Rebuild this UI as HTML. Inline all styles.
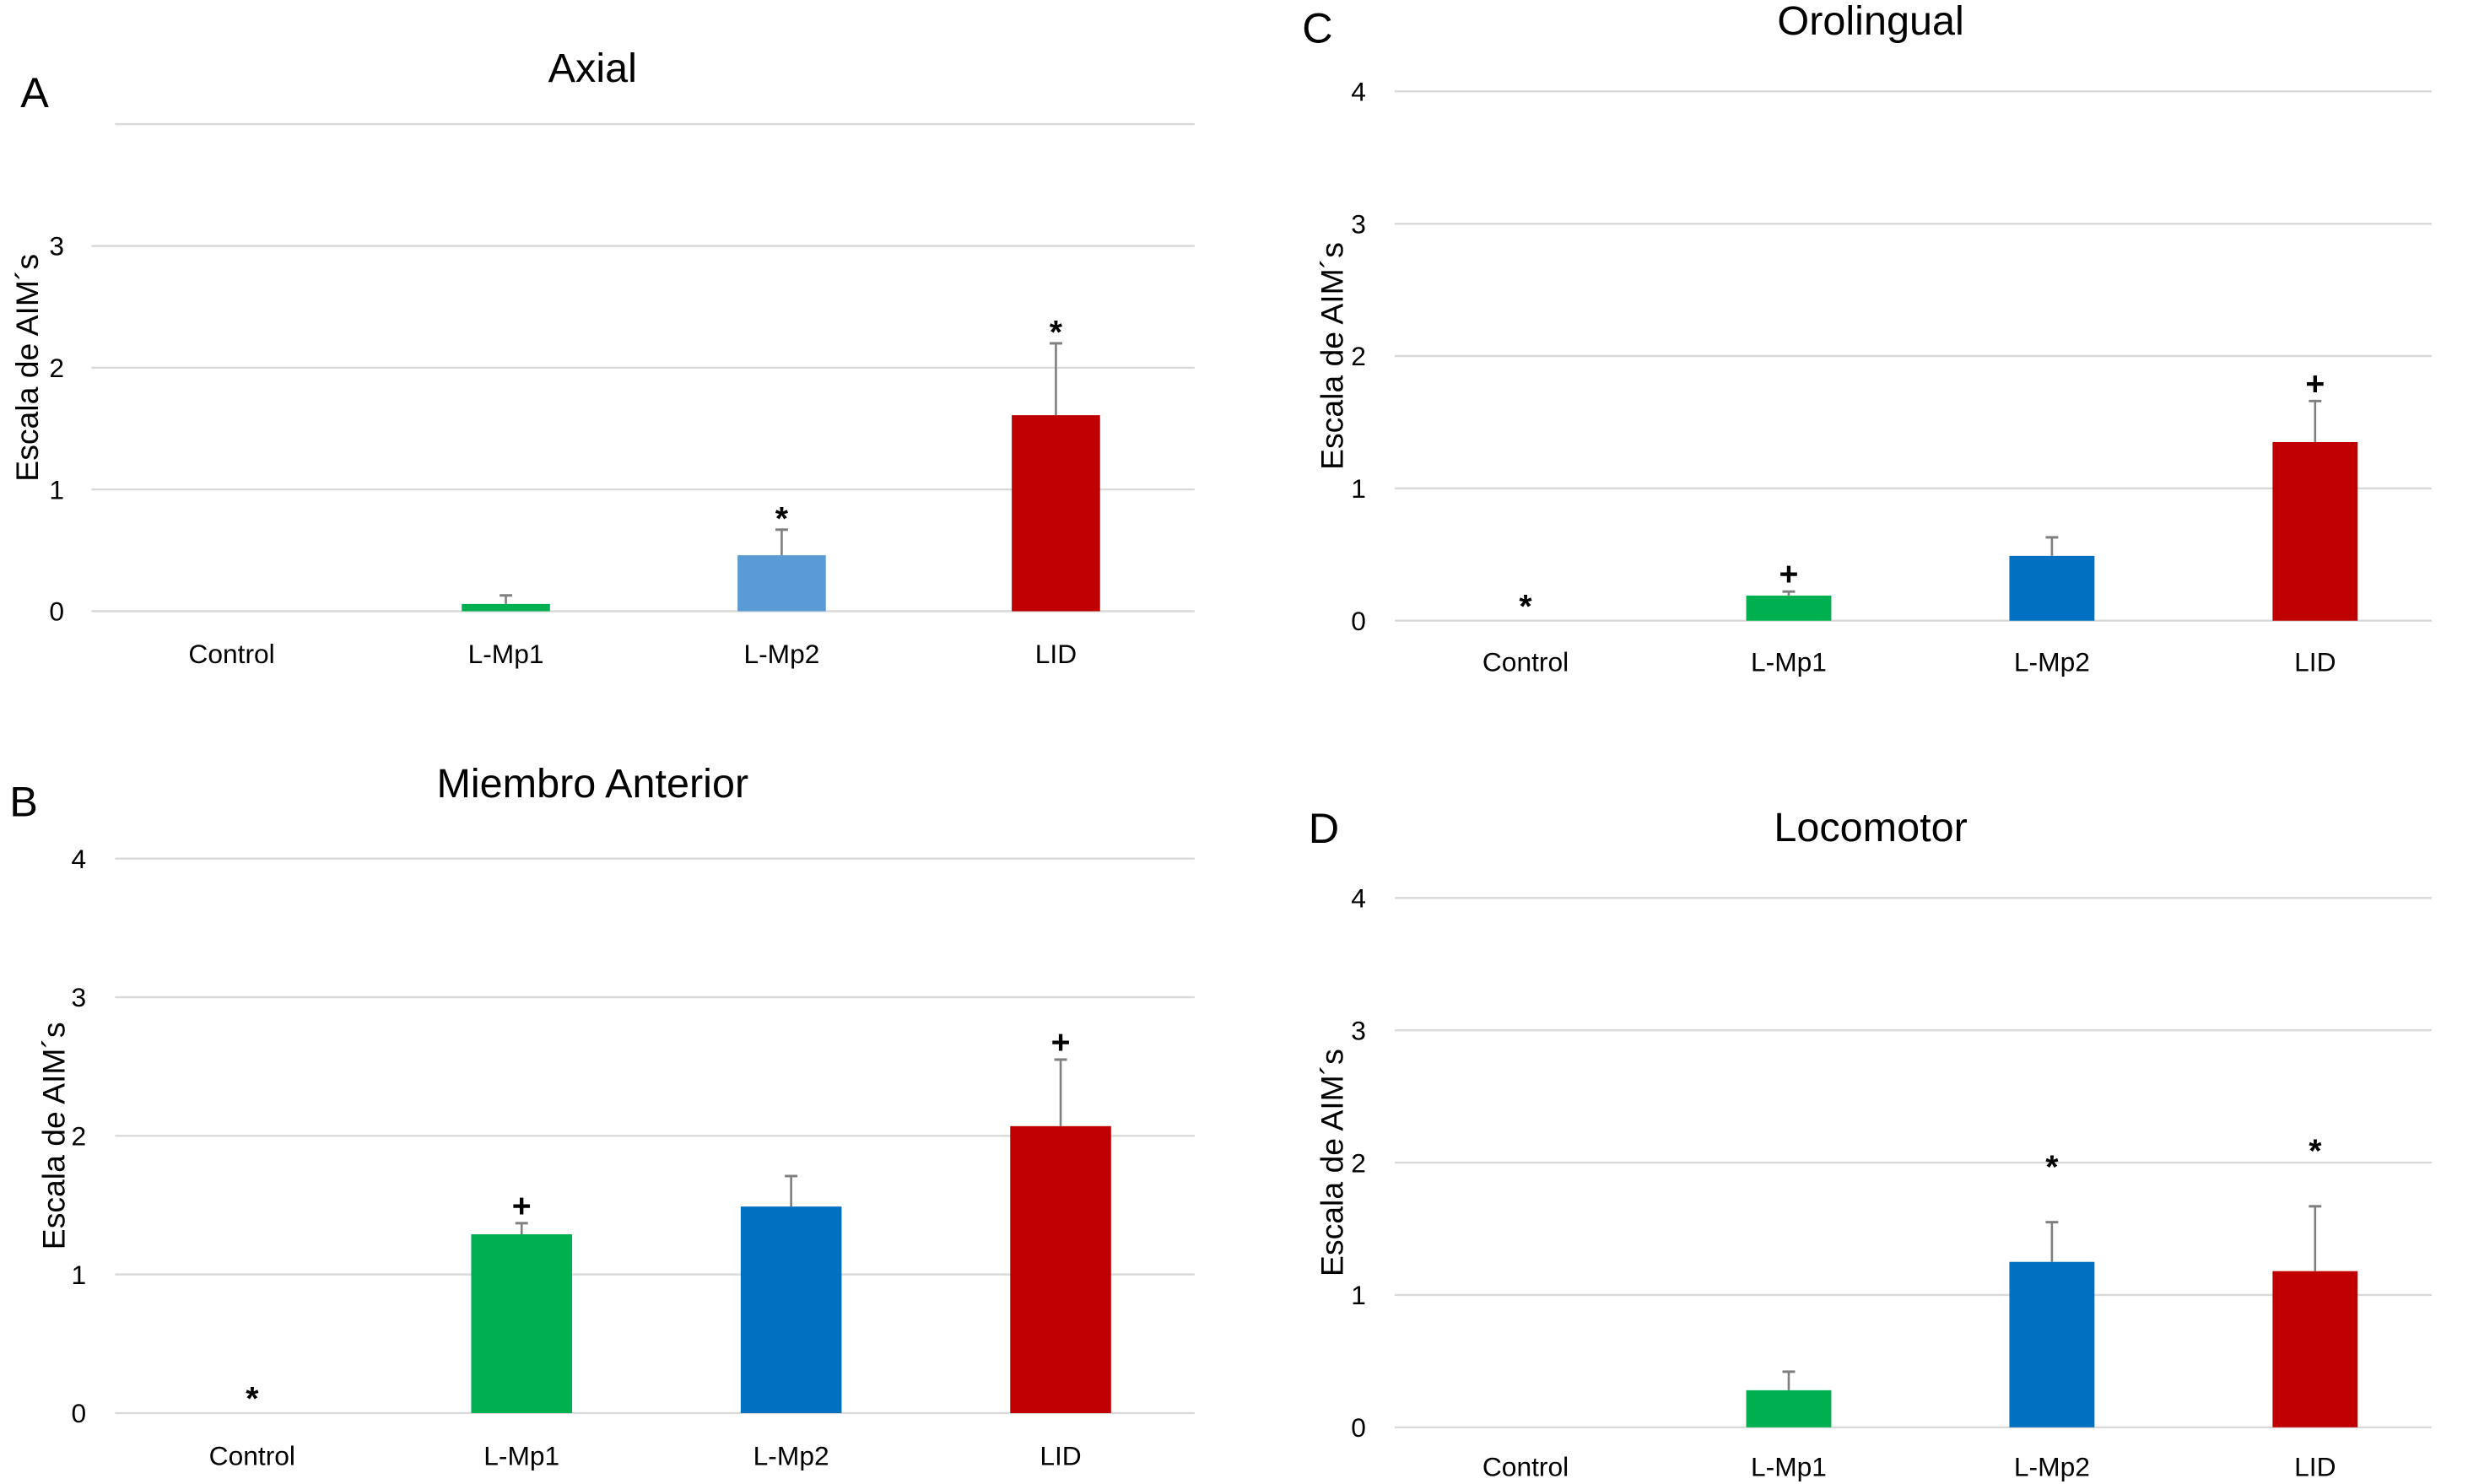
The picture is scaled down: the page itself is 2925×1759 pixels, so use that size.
<!DOCTYPE html>
<html><head><meta charset="utf-8">
<style>
html,body{margin:0;padding:0;background:#fff;}
svg{display:block;}
text{font-family:"Liberation Sans",sans-serif;fill:#000;}
.tick{font-family:"Liberation Sans Narrow","Liberation Sans",sans-serif;}
</style></head>
<body>
<svg id="fig" width="2925" height="1759" viewBox="0 0 1566 942" preserveAspectRatio="none" xmlns="http://www.w3.org/2000/svg"></svg>
<script>
const categories = ["Control","L-Mp1","L-Mp2","LID"];
const valuesA = [0, 0.06, 0.46, 1.61];
const errA = [0, 0.13, 0.67, 2.20];
const marksA = ["", "", "*", "*"];
const valuesB = [0, 1.29, 1.49, 2.07];
const errB = [0, 1.37, 1.71, 2.55];
const marksB = ["*", "+", "", "+"];
const valuesC = [0, 0.19, 0.49, 1.35];
const errC = [0, 0.22, 0.63, 1.66];
const marksC = ["*", "+", "", "+"];
const valuesD = [0, 0.28, 1.25, 1.18];
const errD = [0, 0.42, 1.55, 1.67];
const marksD = ["", "", "*", "*"];
const tickLabelsA = ["0","1","2","3",""];
const tickLabelsFull = ["0","1","2","3","4"];

const NS = "http://www.w3.org/2000/svg";
const svg = document.getElementById("fig");
function mk(tag, attrs, parent){
  const e = document.createElementNS(NS, tag);
  for (const k in attrs) e.setAttribute(k, attrs[k]);
  (parent||svg).appendChild(e);
  return e;
}

const panels = [
  {id:"a", letter:"A", lx:22, ly:68, title:"Axial", tx:376, ty:52, y0:388, unit:77.3, gx1:58, gtop:73, gx2:758,
   labx:36, ytx:17, cats:[147,321,496,670], bw:56, vals:valuesA, errs:errA, marks:marksA, ticks:tickLabelsA,
   colors:["#00b050","#00b050","#5b9bd5","#c00000"], caty:421},
  {id:"b", letter:"B", lx:15, ly:518, title:"Miembro Anterior", tx:376, ty:506, y0:897, unit:88, gx1:73, gtop:73, gx2:758,
   labx:50, ytx:34, cats:[160,331,502,673], bw:64, vals:valuesB, errs:errB, marks:marksB, ticks:tickLabelsFull,
   colors:["#00b050","#00b050","#0070c0","#c00000"], caty:930},
  {id:"c", letter:"C", lx:836, ly:27, title:"Orolingual", tx:1187, ty:22, y0:394, unit:84, gx1:885, gtop:885, gx2:1543,
   labx:862, ytx:845, cats:[968,1135,1302,1469], bw:54, vals:valuesC, errs:errC, marks:marksC, ticks:tickLabelsFull,
   colors:["#00b050","#00b050","#0070c0","#c00000"], caty:426},
  {id:"d", letter:"D", lx:840, ly:535, title:"Locomotor", tx:1187, ty:534, y0:906, unit:84, gx1:885, gtop:885, gx2:1543,
   labx:862, ytx:845, cats:[968,1135,1302,1469], bw:54, vals:valuesD, errs:errD, marks:marksD, ticks:tickLabelsFull,
   colors:["#00b050","#00b050","#0070c0","#c00000"], caty:937}
];

panels.forEach(p => {
  const g = mk("g", {});
  
  
  const yS = v => p.y0 - v * p.unit;

  const L = mk("text", {x:p.lx, y:p.ly, "font-size":27, "text-anchor":"middle"}, g);
  L.textContent = p.letter;
  
  

  const T = mk("text", {x:p.tx, y:p.ty, "font-size":26, "text-anchor":"middle"}, g);
  T.textContent = p.title;
  
  

  for (let i = 0; i < 5; i++) {
    const y = yS(i);
    const x1 = (i === 4) ? p.gtop : p.gx1;
    const gl = mk("line", {x1:x1, x2:p.gx2, y1:y, y2:y, stroke:"#d9d9d9", "stroke-width":1.3}, g);
    
    
    if (p.ticks[i]) {
      const t = mk("text", {x:p.labx, y:y+6, "font-size":17, "text-anchor":"middle", class:"tick"}, g);
      t.textContent = p.ticks[i];
      
      
    }
  }

  const ymid = yS(2);
  const yt = mk("text", {x:p.ytx, y:ymid, "font-size":20, "text-anchor":"middle", transform:`rotate(-90 ${p.ytx} ${ymid})`, dy:7}, g);
  yt.textContent = "Escala de AIM´s";
  
  

  categories.forEach((c, i) => {
    const cx = p.cats[i];
    const v = p.vals[i];
    if (v > 0) {
      const r = mk("rect", {x:cx - p.bw/2, y:yS(v), width:p.bw, height:p.y0 - yS(v), fill:p.colors[i]}, g);
      
      
    }
    const e = p.errs[i];
    if (e > v) {
      const el = mk("line", {x1:cx, x2:cx, y1:yS(v), y2:yS(e), stroke:"#7f7f7f", "stroke-width":1.4}, g);
      
      
      const cap = mk("line", {x1:cx-4, x2:cx+4, y1:yS(e), y2:yS(e), stroke:"#7f7f7f", "stroke-width":1.6}, g);
      
      
    }
    const m = p.marks[i];
    if (m) {
      const top = Math.max(v, e);
      let my = yS(top) - 12;
      if (m === "*" && i === 0) my = p.y0 - 14;
      if (p.id === "d") my = yS(top) - 40;
      const mt = mk("text", {x:cx, y:my + (m === "*" ? 12 : 8), "font-size":21, "font-weight":"bold", "text-anchor":"middle"}, g);
      mt.textContent = m;
      
      
    }
    const cl = mk("text", {x:cx, y:p.caty, "font-size":17, "text-anchor":"middle", class:"tick"}, g);
    cl.textContent = c;
    
    
  });
});
</script>
</body></html>
